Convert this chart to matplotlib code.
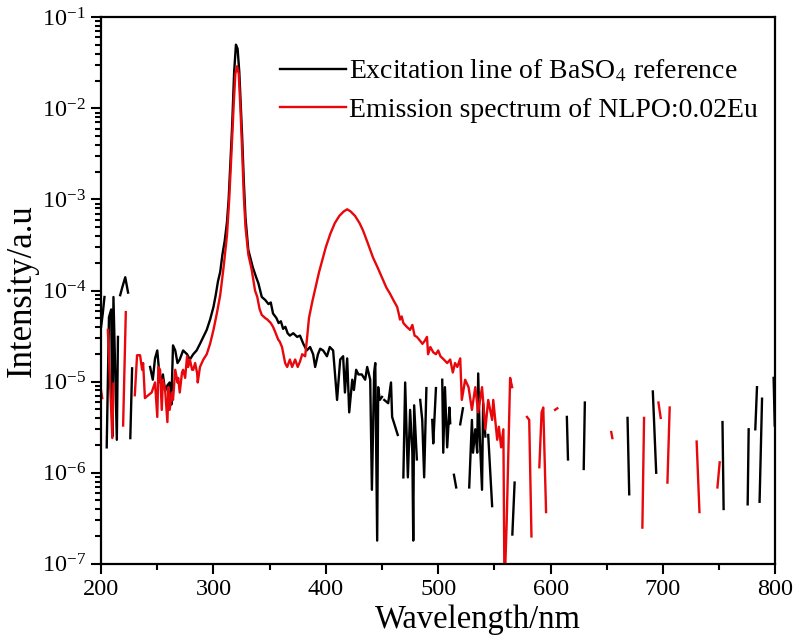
import numpy as np
import matplotlib
matplotlib.use("Agg")
import matplotlib.pyplot as plt
from matplotlib.ticker import MultipleLocator, LogLocator, FuncFormatter

plt.rcParams['font.family'] = ['Liberation Serif', 'DejaVu Serif']
plt.rcParams['mathtext.fontset'] = 'stix'

# excitation line of BaSO4 reference (nan = negative / missing reading)
nan = np.nan
black_wl = [200, 201.5, 203, 204, 205, 207, 209, 210, 211, 212.5, 214, 215, 216,
            217, 219, 221.5, 224, 225, 226, 227.6, 229,
            243.6, 246, 248, 250, 252.5, 255, 257, 259, 261, 262.5, 264, 266, 268, 270,
            273, 276.5, 279, 282, 285, 288, 291, 294, 297, 300, 302, 304, 306, 308,
            310, 312, 313.5, 315, 316.6, 318.4, 320, 321.5, 323, 325.5, 327, 328.5,
            331, 335, 338, 340, 343, 346, 349, 351, 353, 356, 358, 360, 362, 364, 366,
            368, 371, 374.5, 377, 380, 383, 386, 388.7, 390.5, 393, 395, 397.6, 401,
            403.5, 406.5, 410, 412.8, 415.4, 417, 419, 420.8, 423.5, 425, 427, 429,
            432, 435, 436.8, 438, 439.5, 441, 443, 444, 445.7, 446.6, 448, 450, 451,
            452, 455.5, 458, 459, 461.7, 464, 466,
            469, 470.6, 473, 475, 477, 477.8, 478.6, 481, 482.5,
            484, 485.8, 487.5, 489.5, 491, 494.7, 495.6, 498, 499,
            503.6, 504.5, 506, 508, 510, 510.7, 512, 514, 516, 517, 519.6, 522, 524,
            527.6, 530, 531, 533, 534.7, 535.6, 537, 539, 540, 542, 543, 544.5, 548, 549,
            566, 568, 569, 614.5, 615.5, 616, 629.5, 630.5, 631, 668.5, 670, 671,
            691, 694, 695, 753, 754, 755, 775.4, 776.3, 777, 782.2, 783.7, 785,
            786, 788.2, 789, 798.5, 799.5]
black_int = [4.0e-5, 5.6e-5, 8.5e-5, nan, 1.9e-6, 5.1e-5, 6.2e-5, 2.5e-6, 8.5e-5, 1.35e-5, 2.3e-6, 3.1e-5, nan,
             8.9e-5, 1.1e-4, 1.4e-4, 9.5e-5, nan, 2.4e-6, 1.4e-5, nan,
             1.45e-5, 1.05e-5, 1.8e-5, 2.2e-5, 9.8e-6, 1.2e-5, 7.9e-6, 9.1e-6, 9.8e-6, 5.6e-6, 2.5e-5, 2.2e-5, 1.6e-5, 1.75e-5,
             2.2e-5, 2.0e-5, 1.75e-5, 2.0e-5, 2.2e-5, 2.6e-5, 3.1e-5, 3.7e-5, 4.8e-5, 6.6e-5, 8.9e-5, 1.26e-4, 1.6e-4, 2.5e-4,
             3.5e-4, 5.6e-4, 1.0e-3, 2.5e-3, 6.3e-3, 2.5e-2, 5.0e-2, 4.5e-2, 2.5e-2, 5.0e-3, 1.6e-3, 6.3e-4,
             2.8e-4, 1.8e-4, 1.4e-4, 1.2e-4, 8.5e-5, 7.9e-5, 7.1e-5, 7.4e-5, 5.6e-5, 5.0e-5, 4.4e-5, 4.6e-5, 3.8e-5, 4.0e-5, 3.4e-5,
             3.2e-5, 3.4e-5, 3.1e-5, 3.2e-5, 2.6e-5, 2.2e-5, 2.4e-5, 2.0e-5, 1.45e-5, 2.0e-5, 2.3e-5, 2.2e-5, 1.9e-5,
             2.4e-5, 2.2e-5, 6.3e-6, 1.75e-5, 1.9e-5, 7.6e-6, 1.8e-5, 4.6e-6, 1.05e-5, 8.1e-6, 1.35e-5, 1.2e-5,
             1.2e-5, 1.05e-5, 1.45e-5, 1.26e-5, 1.05e-5, 6.5e-7, 1.26e-5, 1.6e-5, 1.8e-7, 8.7e-6, 6.3e-6, 6.8e-6, nan,
             6.3e-6, 5.8e-6, 9.8e-6, 4.1e-6, 3.2e-6, 2.6e-6, nan,
             8.9e-7, 9.8e-6, 8.9e-7, 4.9e-6, 1.66e-6, 1.8e-7, 5.5e-6, 1.4e-6, nan,
             6.3e-6, 3.8e-6, 8.9e-7, 8.5e-6, nan, 3.8e-6, 2.1e-6, 8.5e-6, nan,
             1.05e-5, 1.66e-6, 8.7e-6, 1.9e-6, 5.2e-6, 3.5e-6, nan, 9.5e-7, 6.9e-7, nan, 3.4e-6, 5.1e-6, nan,
             6.9e-7, 3.8e-6, 1.66e-6, 3.0e-6, 1.66e-6, 1.23e-5, 2.5e-6, 6.5e-7, 5.8e-6, 2.5e-6, nan, 2.6e-6, 4.3e-7, nan,
             2.1e-7, 7.8e-7, nan, 4.1e-6, 1.4e-6, nan, 1.1e-6, 5.9e-6, nan, 4.0e-6, 5.8e-7, nan,
             7.8e-6, 1.0e-6, nan, 3.6e-6, 4.0e-7, nan, 4.5e-7, 3.0e-6, nan, 3.0e-6, 8.7e-6, nan,
             4.8e-7, 6.5e-6, nan, 1.1e-5, 3.3e-6]

# emission spectrum of NLPO:0.02Eu
red_wl = [200, 201, 202, 206, 210, 211, 212, 219.6, 222, 223,
          230, 232, 234.7, 236.5, 237.4, 239, 242, 245, 248, 250, 251, 252.5, 254, 255,
          257, 259, 260, 261, 263, 264, 266, 268, 268.6, 270, 272, 273, 274.8, 276.5,
          277.5, 279, 281, 282, 283.7, 285.5, 286, 288, 291, 294, 297, 300, 303, 306,
          309, 312, 314, 316, 318, 319.5, 321, 322.5, 324, 325.5, 327, 328.5, 331, 334,
          337, 339, 341, 343, 346, 348, 351, 353, 355, 357.6, 359, 361, 363.8, 365.6,
          368, 370, 372.7, 375, 377, 379, 381.6, 383.4, 385, 388, 391, 394, 397, 400,
          404, 408, 412, 416, 419, 422, 426, 430, 433, 437, 442, 446, 451, 454, 457,
          460, 463.5, 465, 466, 467.5, 469, 472, 475, 477, 479, 481, 484, 486, 488,
          490, 491, 493, 495.6, 498, 500, 502, 505, 508, 510.7, 513, 515, 517, 519.6,
          521, 524, 527, 530, 533, 535.6, 539, 542, 544.5, 548, 549, 552.5, 554, 556,
          558, 559, 561, 564, 565.8, 567, 579, 581, 583, 584, 590, 592, 593.5, 596, 597,
          604, 606, 607, 654, 655, 656, 681.7, 683.2, 684, 696, 698, 699, 704, 706, 707,
          730, 732.5, 733, 748.5, 750.5]
red_int = [7.9e-6, 6.6e-6, nan, 3.7e-5, 2.4e-6, 9.5e-6, nan, 3.3e-6, 5.8e-5, nan,
           7.1e-6, 1.95e-5, 1.95e-5, 1.35e-5, 1.6e-5, 6.6e-6, 7.1e-6, 7.6e-6, 9.8e-6, 4.1e-6, 1.45e-5, 1.35e-5, 4.9e-6, 1.05e-5,
           8.1e-6, 3.6e-6, 8.7e-6, 4.9e-6, 7.6e-6, 6.3e-6, 1.35e-5, 9.8e-6, 1.1e-5, 7.6e-6, 1.26e-5, 1.35e-5, 1.1e-5, 1.9e-5,
           1.45e-5, 1.75e-5, 1.35e-5, 1.35e-5, 1.6e-5, 1.23e-5, 9.8e-6, 1.45e-5, 1.75e-5, 2.0e-5, 2.6e-5, 3.7e-5, 5.6e-5, 8.9e-5,
           1.8e-4, 4.0e-4, 1.0e-3, 3.2e-3, 1.1e-2, 2.4e-2, 2.9e-2, 2.4e-2, 1.0e-2, 3.5e-3, 1.1e-3, 5.0e-4, 2.5e-4, 1.7e-4,
           1.0e-4, 8.5e-5, 6.3e-5, 5.4e-5, 5.0e-5, 4.8e-5, 4.4e-5, 4.0e-5, 3.5e-5, 2.9e-5, 2.75e-5, 2.4e-5, 1.6e-5, 1.45e-5,
           1.75e-5, 1.45e-5, 1.75e-5, 1.45e-5, 1.66e-5, 2.0e-5, 1.9e-5, 3.1e-5, 5.0e-5, 7.6e-5, 1.1e-4, 1.6e-4, 2.2e-4, 3.0e-4,
           4.2e-4, 5.5e-4, 6.6e-4, 7.4e-4, 7.8e-4, 7.4e-4, 6.6e-4, 5.5e-4, 4.6e-4, 3.4e-4, 2.3e-4, 1.8e-4, 1.3e-4, 1.07e-4, 9.3e-5,
           7.9e-5, 6.6e-5, 5.5e-5, 4.8e-5, 5.2e-5, 4.4e-5, 4.0e-5, 3.7e-5, 4.2e-5, 3.2e-5, 3.1e-5, 2.8e-5, 2.6e-5, 2.8e-5,
           3.1e-5, 2.0e-5, 2.4e-5, 2.1e-5, 2.0e-5, 2.2e-5, 1.9e-5, 1.75e-5, 1.6e-5, 1.75e-5, 1.26e-5, 1.6e-5, 1.45e-5, 1.8e-5,
           6.3e-6, 1.05e-5, 8.7e-6, 4.9e-6, 8.7e-6, 4.6e-6, 8.7e-6, 3.0e-6, 6.3e-6, 3.8e-6, 6.3e-6, 2.3e-6, 3.2e-6, 1.9e-6,
           3.0e-6, 5.0e-8, 3.0e-7, 1.1e-5, 8.7e-6, nan, 4.1e-6, 3.8e-6, 2.0e-7, nan, 1.15e-6, 4.6e-6, 5.2e-6, 3.7e-7, nan,
           4.9e-6, 5.1e-6, nan, 2.8e-6, 2.4e-6, nan, 2.5e-7, 4.0e-6, nan, 5.9e-6, 4.0e-6, nan, 7.8e-7, 5.2e-6, nan,
           2.2e-6, 3.7e-7, nan, 6.9e-7, 1.3e-6]

labels = ['Excitation line of BaSO$_4$ reference', 'Emission spectrum of NLPO:0.02Eu']

fig = plt.figure(figsize=(7.96, 6.4), dpi=100)
ax = fig.add_axes([0.127, 0.119, 0.847, 0.854])

ax.plot(black_wl, black_int, color='black', lw=1.7, label=labels[0])
ax.plot(red_wl, red_int, color='#e8070b', lw=1.7, label=labels[1])

ax.set_yscale('log')
ax.set_xlim(200, 800)
ax.set_ylim(1e-7, 1e-1)
ax.xaxis.set_major_locator(MultipleLocator(100))
ax.xaxis.set_minor_locator(MultipleLocator(50))
ax.yaxis.set_major_locator(LogLocator(base=10, numticks=10))
ax.yaxis.set_minor_locator(LogLocator(base=10, subs=np.arange(2, 10), numticks=10))
ax.yaxis.set_major_formatter(FuncFormatter(
    lambda v, p: r'$\mathregular{10^{-%d}}$' % round(-np.log10(v))))

ax.tick_params(which='both', direction='out', top=False, right=False, labelsize=17.5, width=1.5)
ax.tick_params(which='major', length=7.5)
ax.tick_params(which='minor', length=4.5)
for s in ax.spines.values():
    s.set_linewidth(1.6)

ax.set_xlabel('Wavelength/nm', fontsize=23.5)
ax.xaxis.set_label_coords(0.559, -0.075)
ax.set_ylabel('Intensity/a.u', fontsize=25, labelpad=2)

ax.legend(loc='upper left', frameon=False, fontsize=20, handlelength=2.35,
          handletextpad=0.12, labelspacing=0.45, bbox_to_anchor=(0.266, 0.925),
          borderaxespad=0, borderpad=0)

fig.savefig('out.png', dpi=100)
